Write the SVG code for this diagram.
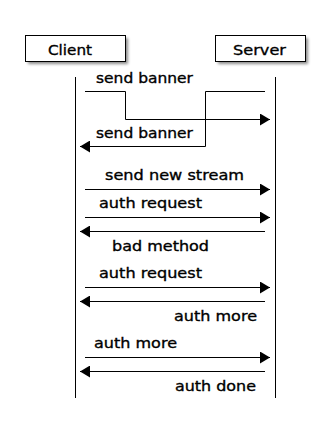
<svg xmlns="http://www.w3.org/2000/svg" width="330" height="434" viewBox="0 0 330 434">
<style>
text{font-family:"DejaVu Sans","Liberation Sans",sans-serif;font-size:14.5px;fill:#000;stroke:#000;stroke-width:0.35px}
.box{fill:#fff;stroke:#000;stroke-width:1}
.shadow{fill:#000;opacity:0.45}
.life{stroke:#000;stroke-width:1;fill:none}
.msg{stroke:#000;stroke-width:1;fill:none;marker-end:url(#arr)}
</style>
<defs>
<filter id="blur" x="-20%" y="-50%" width="140%" height="200%"><feGaussianBlur stdDeviation="1.5"/></filter>
<marker id="arr" markerUnits="userSpaceOnUse" markerWidth="10" markerHeight="12" refX="10" refY="6" orient="auto"><path d="M0,0 L10,6 L0,12 z" fill="#000"/></marker>
</defs>
<rect width="330" height="434" fill="#fff"/>
<g id="lifelines">
<line class="life" x1="75.5" y1="77" x2="75.5" y2="398"/>
<line class="life" x1="275.5" y1="77" x2="275.5" y2="398"/>
</g>
<g id="Client">
<rect class="shadow" x="28" y="38" width="100" height="26" filter="url(#blur)"/>
<rect class="box" x="25.5" y="35.5" width="100" height="26"/>
<text x="48" y="54.5" textLength="44" lengthAdjust="spacingAndGlyphs">Client</text>
</g>
<g id="Server">
<rect class="shadow" x="218" y="38" width="90" height="26" filter="url(#blur)"/>
<rect class="box" x="215.5" y="35.5" width="90" height="26"/>
<text x="233" y="54.5" textLength="53" lengthAdjust="spacingAndGlyphs">Server</text>
</g>
<g id="connectors">
<path class="msg" d="M85,91.5 H125.5 V119.5 H270"/>
<path class="msg" d="M265,91.5 H205.5 V146.5 H80"/>
<path class="msg" d="M85,189.5 H270"/>
<path class="msg" d="M85,217.5 H270"/>
<path class="msg" d="M265,231.5 H80"/>
<path class="msg" d="M85,287.5 H270"/>
<path class="msg" d="M265,301.5 H80"/>
<path class="msg" d="M85,357.5 H270"/>
<path class="msg" d="M265,371.5 H80"/>
</g>
<g id="labels">
<text x="96" y="83" textLength="97" lengthAdjust="spacingAndGlyphs">send banner</text>
<text x="96" y="138" textLength="97" lengthAdjust="spacingAndGlyphs">send banner</text>
<text x="105" y="180" textLength="139" lengthAdjust="spacingAndGlyphs">send new stream</text>
<text x="99" y="208" textLength="103" lengthAdjust="spacingAndGlyphs">auth request</text>
<text x="112" y="251" textLength="97" lengthAdjust="spacingAndGlyphs">bad method</text>
<text x="99" y="278" textLength="103" lengthAdjust="spacingAndGlyphs">auth request</text>
<text x="174" y="321" textLength="83" lengthAdjust="spacingAndGlyphs">auth more</text>
<text x="94" y="348" textLength="83" lengthAdjust="spacingAndGlyphs">auth more</text>
<text x="175" y="391" textLength="81" lengthAdjust="spacingAndGlyphs">auth done</text>
</g>
</svg>
